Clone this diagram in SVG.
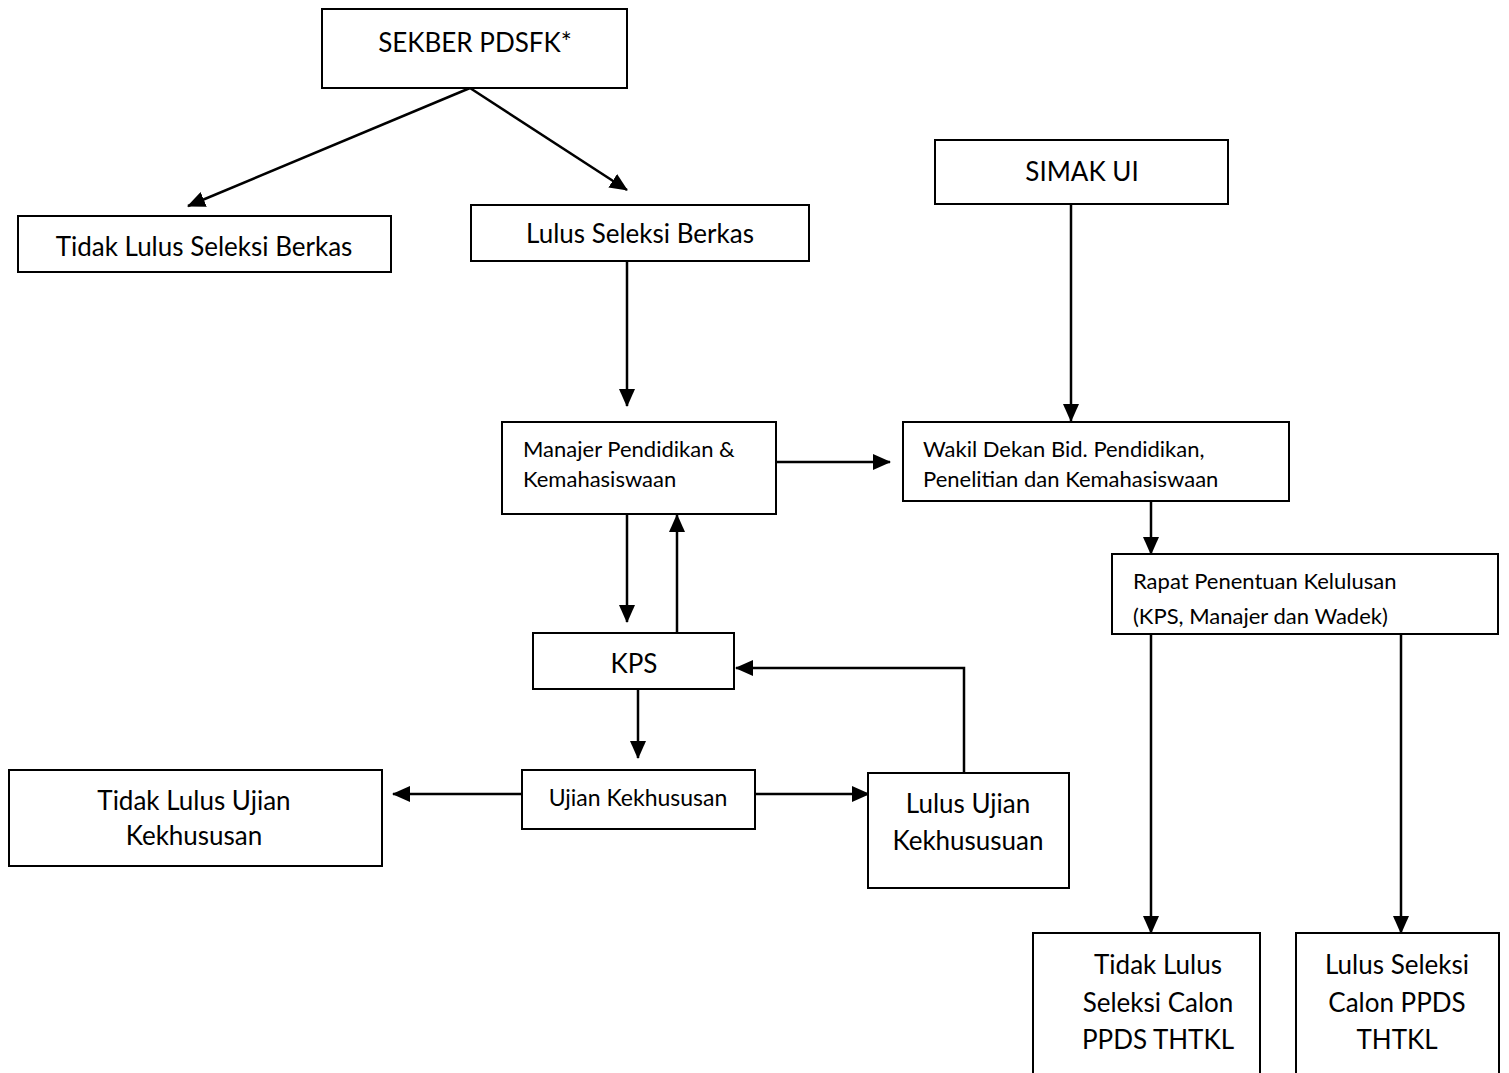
<svg xmlns="http://www.w3.org/2000/svg" width="1509" height="1073" viewBox="0 0 1509 1073">
<style>
.b{fill:#fff;stroke:#000;stroke-width:2}
.t{font-family:Lato,"Open Sans",sans-serif;font-size:26px;fill:#000;text-anchor:middle}
.s{font-family:Lato,"Open Sans",sans-serif;font-size:22px;fill:#000}
.c{fill:none;stroke:#000;stroke-width:2.5}
</style>
<defs>
<marker id="a2" markerWidth="18" markerHeight="16" refX="17" refY="8" orient="auto" markerUnits="userSpaceOnUse" viewBox="0 0 18 16"><path d="M0,0 L18,8 L0,16 z" fill="#000"/></marker>
</defs>
<g id="connectors">
<line class="c" x1="470" y1="88" x2="188" y2="206" marker-end="url(#a2)"/>
<line class="c" x1="470" y1="88" x2="627" y2="190" marker-end="url(#a2)"/>
<line class="c" x1="627" y1="261" x2="627" y2="406" marker-end="url(#a2)"/>
<line class="c" x1="1071" y1="204" x2="1071" y2="421" marker-end="url(#a2)"/>
<line class="c" x1="776" y1="462" x2="890" y2="462" marker-end="url(#a2)"/>
<line class="c" x1="1151" y1="501" x2="1151" y2="554" marker-end="url(#a2)"/>
<line class="c" x1="627" y1="514" x2="627" y2="622" marker-end="url(#a2)"/>
<line class="c" x1="677" y1="633" x2="677" y2="515" marker-end="url(#a2)"/>
<polyline class="c" points="964,772 964,668 736,668" marker-end="url(#a2)"/>
<line class="c" x1="638" y1="689" x2="638" y2="758" marker-end="url(#a2)"/>
<line class="c" x1="522" y1="794" x2="393" y2="794" marker-end="url(#a2)"/>
<line class="c" x1="755" y1="794" x2="869" y2="794" marker-end="url(#a2)"/>
<line class="c" x1="1151" y1="634" x2="1151" y2="933" marker-end="url(#a2)"/>
<line class="c" x1="1401" y1="634" x2="1401" y2="933" marker-end="url(#a2)"/>
</g>
<g id="sekber"><rect class="b" x="322" y="9" width="305" height="79"/><text class="t" x="475" y="52">SEKBER PDSFK*</text></g>
<g id="tidak-berkas"><rect class="b" x="18" y="216" width="373" height="56"/><text class="t" x="204" y="256">Tidak Lulus Seleksi Berkas</text></g>
<g id="lulus-berkas"><rect class="b" x="471" y="205" width="338" height="56"/><text class="t" x="640" y="243">Lulus Seleksi Berkas</text></g>
<g id="simak"><rect class="b" x="935" y="140" width="293" height="64"/><text class="t" x="1082" y="181">SIMAK UI</text></g>
<g id="manajer"><rect class="b" x="502" y="422" width="274" height="92"/><text class="s" x="523" y="457">Manajer Pendidikan &amp;</text><text class="s" x="523" y="487">Kemahasiswaan</text></g>
<g id="wakil"><rect class="b" x="903" y="422" width="386" height="79"/><text class="s" x="923" y="457">Wakil Dekan Bid. Pendidikan,</text><text class="s" x="923" y="487">Penelitian dan Kemahasiswaan</text></g>
<g id="rapat"><rect class="b" x="1112" y="554" width="386" height="80"/><text class="s" x="1133" y="589">Rapat Penentuan Kelulusan</text><text class="s" x="1133" y="624">(KPS, Manajer dan Wadek)</text></g>
<g id="kps"><rect class="b" x="533" y="633" width="201" height="56"/><text class="t" x="634" y="673">KPS</text></g>
<g id="ujian"><rect class="b" x="522" y="770" width="233" height="59"/><text class="s" x="638" y="806" text-anchor="middle" style="font-size:23px">Ujian Kekhususan</text></g>
<g id="tidak-ujian"><rect class="b" x="9" y="770" width="373" height="96"/><text class="t" x="194" y="810">Tidak Lulus Ujian</text><text class="t" x="194" y="845">Kekhususan</text></g>
<g id="lulus-ujian"><rect class="b" x="868" y="773" width="201" height="115"/><text class="t" x="968" y="813">Lulus Ujian</text><text class="t" x="968" y="850">Kekhususuan</text></g>
<g id="tidak-calon"><rect class="b" x="1033" y="933" width="227" height="150"/><text class="t" x="1158" y="974">Tidak Lulus</text><text class="t" x="1158" y="1012">Seleksi Calon</text><text class="t" x="1158" y="1049">PPDS THTKL</text></g>
<g id="lulus-calon"><rect class="b" x="1296" y="933" width="203" height="150"/><text class="t" x="1397" y="974">Lulus Seleksi</text><text class="t" x="1397" y="1012">Calon PPDS</text><text class="t" x="1397" y="1049">THTKL</text></g>
</svg>
